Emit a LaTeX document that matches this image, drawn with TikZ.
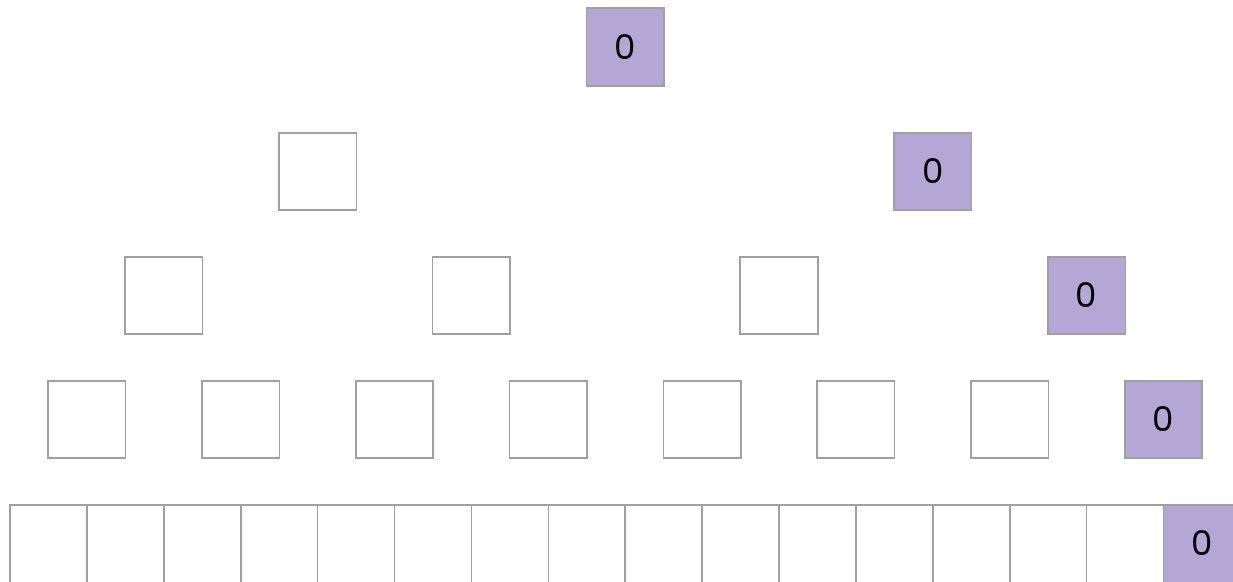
\documentclass[tikz,border=0pt]{standalone}
\usepackage{fontspec}
\setmainfont{Poppins}
\definecolor{lav}{HTML}{B4A7D6}
\definecolor{edge}{HTML}{A0A0A0}
\tikzset{
  lbl/.style={font=\fontsize{34}{40}\selectfont},
  cell/.style={draw=edge, line width=1.6pt, minimum width=77.5pt, minimum height=77.5pt, inner sep=0pt, lbl},
  bcell/.style={draw=edge, line width=1.6pt, minimum width=76.9pt, minimum height=100pt, inner sep=0pt},
  hit/.style={fill=lav}
}
\begin{document}
\begin{tikzpicture}[x=1pt,y=-1pt]
\useasboundingbox (0,0) rectangle (1233,581);
\clip (0,0) rectangle (1233,581);
% row 1
\node[cell,hit] (r1c0) at (625.2,47) {0};
% row 2
\node[cell] (r2c0) at (317.6,171.5) {};
\node[cell,hit] (r2c1) at (932.8,171.5) {0};
% row 3
\foreach \k in {0,1,2} {
  \node[cell] (r3c\k) at ({10+76.9*(4*\k+2)},295.5) {};
}
\node[cell,hit] (r3c3) at ({10+76.9*14},295.5) {0};
% row 4
\foreach \k in {0,...,6} {
  \node[cell] (r4c\k) at ({10+76.9*(2*\k+1)},419.5) {};
}
\node[cell,hit] (r4c7) at ({10+76.9*15},419.5) {0};
% row 5 (cells run past the lower edge)
\foreach \k in {0,...,14} {
  \node[bcell] (r5c\k) at ({10+76.9*(\k+0.5)},555) {};
}
\node[bcell,hit] (r5c15) at ({10+76.9*15.5},555) {};
\node[lbl] (r5lbl) at ({10+76.9*15.5},543.5) {0};
\end{tikzpicture}
\end{document}
